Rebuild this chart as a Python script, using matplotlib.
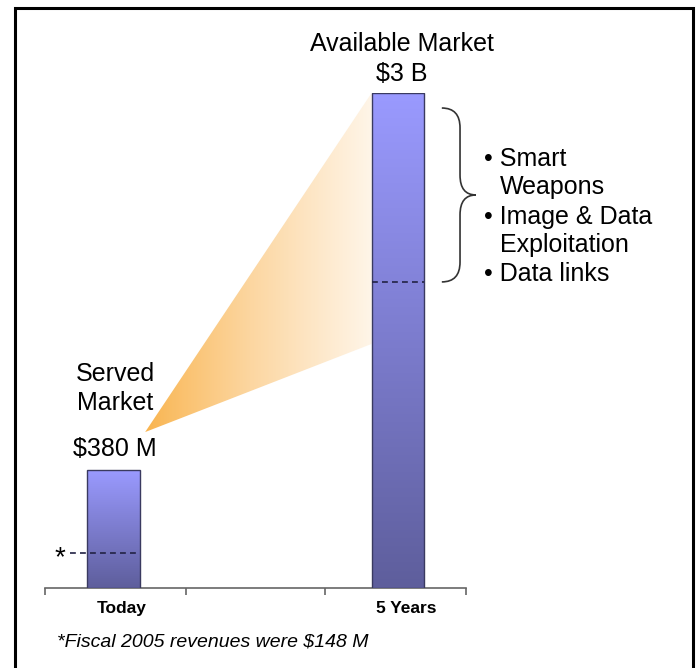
import matplotlib
matplotlib.use("Agg")
import matplotlib.pyplot as plt
import numpy as np
from matplotlib.patches import Rectangle, Polygon, PathPatch
from matplotlib.path import Path
from matplotlib.colors import LinearSegmentedColormap

plt.rcParams['font.family'] = ['Liberation Sans', 'DejaVu Sans']

# values as drawn on the slide (bars are not to scale)
categories = ['Today', '5 Years']
bar_heights = [0.715, 3.0]
dash_levels = [0.212, 1.855]
served_label = ['Served', 'Market', '$380 M']
available_label = ['Available Market', '$3 B']
bullets = [('\u2022 Smart', 0), ('Weapons', 1), ('\u2022 Image & Data', 0),
           ('Exploitation', 1), ('\u2022 Data links', 0)]
footnote = '*Fiscal 2005 revenues were $148 M'

W, H = 698, 668
fig = plt.figure(figsize=(W / 100, H / 100), dpi=100)


def fx(px):
    return px / W


def fy(py):
    return 1 - py / H


ax = fig.add_axes([fx(45), fy(588), fx(466) - fx(45), fy(93) - fy(588)])
x = np.arange(len(categories))
bar_w = 0.186

# gradient bars
bar_cmap = LinearSegmentedColormap.from_list('bar', ['#5e5e9c', '#9a9aff'])
grad = np.linspace(0, 1, 256).reshape(-1, 1)
bars = ax.bar(x, bar_heights, width=bar_w, facecolor='none',
              edgecolor='#3a3a60', lw=1.0, zorder=4)
for b in bars:
    ax.imshow(grad, extent=[b.get_x(), b.get_x() + b.get_width(), 0, b.get_height()],
              origin='lower', cmap=bar_cmap, aspect='auto', zorder=3)

# dashed markers
ax.plot([-0.153, x[0] + bar_w / 2], [dash_levels[0]] * 2, color='#222244',
        lw=1.2, ls=(0, (3.5, 2.5)), zorder=5)
ax.plot([x[1] - bar_w / 2, x[1] + bar_w / 2], [dash_levels[1]] * 2, color='#222244',
        lw=1.2, ls=(0, (3.5, 2.5)), zorder=5)

# orange cone from served label to big bar
apex = (0.111, 0.945)
right = x[1] - bar_w / 2
cone_top, cone_bot = bar_heights[1], 1.479
cone = Polygon([apex, (right, cone_top), (right, cone_bot)], closed=True,
               facecolor='none', edgecolor='none')
ax.add_patch(cone)
cone_cmap = LinearSegmentedColormap.from_list('cone', ['#f9b44e', '#fcd6a0', '#fff5e8'])
tt = np.linspace(0, 1, 300).reshape(1, -1) ** 0.9
tt = np.repeat(tt, 10, axis=0)
im = ax.imshow(tt, extent=[apex[0], right, apex[1], cone_top], origin='lower',
               cmap=cone_cmap, aspect='auto', zorder=1)
im.set_clip_path(cone)

# brace
bx0, bxv, bxt = 1.154, 1.218, 1.274
btop, bbot = 2.909, dash_levels[1]
bmid = (btop + bbot) / 2
r = 0.12
verts = [(bx0, btop), (bxv, btop), (bxv, btop - r), (bxv, bmid + r),
         (bxv, bmid), (bxt, bmid), (bxv, bmid), (bxv, bmid - r),
         (bxv, bbot + r), (bxv, bbot), (bx0, bbot)]
codes = [Path.MOVETO, Path.CURVE3, Path.CURVE3, Path.LINETO,
         Path.CURVE3, Path.CURVE3, Path.CURVE3, Path.CURVE3,
         Path.LINETO, Path.CURVE3, Path.CURVE3]
ax.add_patch(PathPatch(Path(verts, codes), facecolor='none', edgecolor='#333333',
                       lw=1.2, clip_on=False))

ax.set_xlim(-0.241, 1.239)
ax.set_ylim(0, 3.0)
ax.set_xticks([-0.241, 0.255, 0.745, 1.239])
ax.set_yticks([])
ax.tick_params(axis='x', length=5, width=1.2, color='#666666', labelbottom=False)
for s in ['left', 'right', 'top']:
    ax.spines[s].set_visible(False)
ax.spines['bottom'].set_color('#666666')
ax.spines['bottom'].set_linewidth(1.2)
ax.patch.set_alpha(0)

for xi, c in zip(x, categories):
    ax.text(xi + 0.03, -0.0505, c, transform=ax.get_xaxis_transform(),
            ha='center', va='baseline', fontsize=12.5, fontweight='bold')

# labels
for txt, yb in zip(available_label, [51, 81]):
    fig.text(fx(402), fy(yb), txt, ha='center', va='baseline', fontsize=18)
for txt, yb in zip(served_label, [381, 410, 456]):
    fig.text(fx(115), fy(yb), txt, ha='center', va='baseline', fontsize=18)
for (txt, indent), yb in zip(bullets, [166, 194, 224, 252, 281]):
    fig.text(fx(484 + 16 * indent), fy(yb), txt, ha='left', va='baseline', fontsize=18)
fig.text(fx(60), fy(565), '*', ha='center', va='baseline', fontsize=20)
fig.text(fx(57), fy(647), footnote, ha='left', va='baseline', fontsize=14, style='italic')

# slide border
fig.patches.append(Rectangle((fx(14.5), -0.02), fx(692.5) - fx(14.5), fy(7.5) + 0.02,
                             transform=fig.transFigure, fill=False, lw=2.2,
                             edgecolor='black'))

fig.savefig('out.png', dpi=100)
